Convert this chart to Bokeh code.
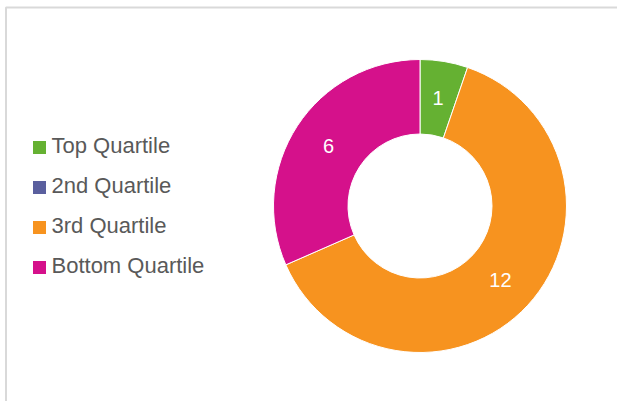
import numpy as np
from bokeh.plotting import figure
from bokeh.models import Range1d, ColumnDataSource
from bokeh.core.properties import value
from bokeh.embed import file_html
from bokeh.resources import INLINE

categories = ["Top Quartile", "2nd Quartile", "3rd Quartile", "Bottom Quartile"]
counts = [1, 0, 12, 6]
colors = ["#65B132", "#5A5F9E", "#F7931F", "#D5118B"]

W, H = 617, 401
p = figure(width=W, height=H, output_backend="svg", toolbar_location=None,
           x_range=Range1d(0, W), y_range=Range1d(0, H), min_border=0)
p.axis.visible = False
p.grid.visible = False
p.outline_line_color = None
p.background_fill_color = "white"
p.border_fill_color = "white"

# frame lines (cropped box)
p.multi_line(xs=[[5.5, 5.5, W]], ys=[[0, H - 7, H - 7]], line_color="#D9D9D9", line_width=2)

cx, cy = 419.5, H - 205.5
r_out, r_in = 146.5, 72
vals = np.array(counts, dtype=float)
frac = vals / vals.sum()
cum = np.concatenate([[0], np.cumsum(frac)])
start = np.pi / 2 - 2 * np.pi * cum[:-1]
end = np.pi / 2 - 2 * np.pi * cum[1:]
mask = vals > 0

src = ColumnDataSource(dict(start=start[mask], end=end[mask],
                            color=[c for c, m in zip(colors, mask) if m]))
p.annular_wedge(x=cx, y=cy, inner_radius=r_in, outer_radius=r_out,
                start_angle="start", end_angle="end", direction="clock",
                fill_color="color", line_color="white", line_width=1, source=src)

# data labels
mid = (start + end) / 2
r_lab = (r_in + r_out) / 2
lab = ColumnDataSource(dict(x=cx + r_lab * np.cos(mid[mask]), y=cy + r_lab * np.sin(mid[mask]),
                            t=[str(c) for c, m in zip(counts, mask) if m]))
p.text(x="x", y="y", text="t", source=lab, text_color="white", text_font=value("Liberation Sans"),
       text_font_size="20px", text_align="center", text_baseline="middle")

# legend
ly0, pitch = H - 147, 40
ly = [ly0 - i * pitch for i in range(len(categories))]
leg = ColumnDataSource(dict(y=ly, color=colors, cat=categories))
p.rect(x=39, y="y", width=13, height=13, fill_color="color", line_color=None, source=leg)
p.text(x=51, y="y", text="cat", source=leg, text_color="#595959", text_font=value("Liberation Sans"),
       text_font_size="22px", text_align="left", text_baseline="middle", y_offset=-2)

open("out.html", "w").write(file_html(p, INLINE))
